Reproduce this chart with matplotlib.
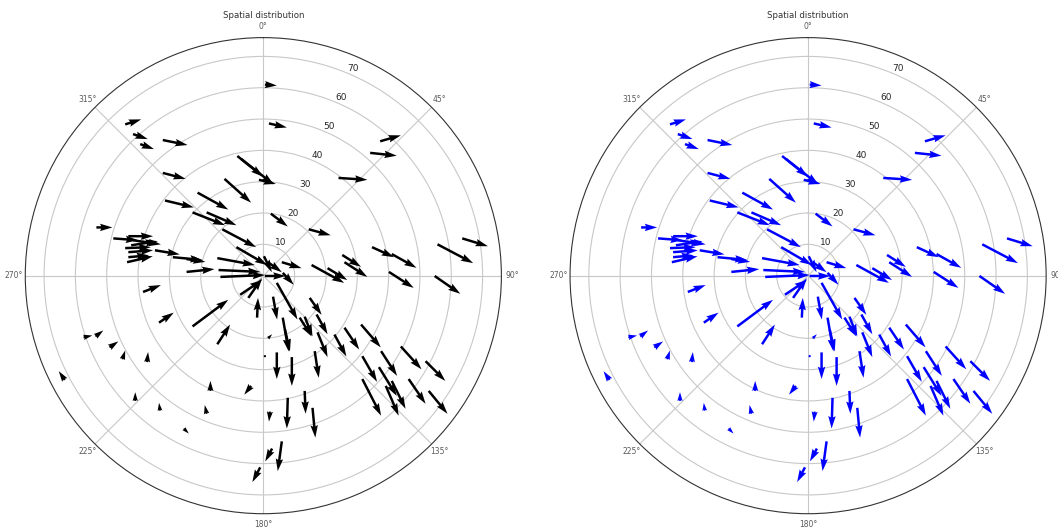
import numpy as np
import matplotlib
matplotlib.use('Agg')
import matplotlib.pyplot as plt

###############################################################################
# Constants
###############################################################################
FIG_SIZE = (10.58, 5.29)
DPI = 100
RMAX = 76.0
RTICKS = [10, 20, 30, 40, 50, 60, 70]
COLORS = ('black', 'blue')
TITLE = 'Spatial distribution'
(GRID_CLR, TLBL_CLR, RLBL_CLR) = ('#c8c8c8', '#5a5a5a', '#262626')

###############################################################################
# Data: arrow tails (east, north) and components (u east, v north)
###############################################################################
xPos = [
    0.5, 1.8, -44.1, -41.6, -39.3, -32.1, -32.1, 37.3, 34.1, 24.0,
    -8.3, -7.1, -1.4, -12.4, -21.0, -31.4, -18.1, -22.6, -13.1, -8.6,
    2.4, 14.5, -53.3, -47.9, -43.1, -41.6, -44.1, -43.1, -43.1, -43.5,
    -42.2, -34.6, -28.9, -24.5, -24.5, -14.7, -14.3, -13.7, 0.2, 1.5,
    5.9, 6.2, 0.5, 15.4, 20.5, 25.2, 25.9, 34.7, 41.0, 40.1,
    55.6, 63.5, 54.7, 31.2, 25.9, 22.7, 43.9, 51.8, 31.6, 37.6,
    31.6, 36.9, 39.1, 41.0, 46.4, 52.8, 14.8, 17.0, 17.3, 11.6,
    13.2, 4.3, 3.1, -2.0, -7.4, -4.8, -22.6, -33.3, -38.4, -14.7,
    6.2, 6.9, 4.3, 9.1, 16.4, 7.8, 13.2, 15.7, 5.9, 2.8,
    -1.0,
    2.1, -16.9, -3.9, -18.1, -57.4, -53.6, -49.1, -45.0, -37.1, -63.4,
    -40.9, -33.0, -25.4, 1.5, 0.5,
]
yPos = [
    61.0, 48.6, 48.3, 45.2, 42.0, 43.3, 32.8, 42.9, 39.2, 31.2,
    38.2, 37.3, 30.6, 30.9, 26.5, 24.0, 20.2, 20.2, 14.8, 9.1,
    19.8, 14.8, 15.4, 11.9, 12.6, 11.3, 8.8, 7.5, 5.9, 4.3,
    9.7, 8.1, 5.9, 5.3, 1.2, 5.6, 1.8, -0.4, 6.2, 4.3,
    4.3, 0.9, -0.1, 3.4, 2.4, 6.6, 4.3, 9.1, 6.9, 1.2,
    10.0, 11.9, -0.1, -15.6, -16.6, -18.8, -22.6, -27.3, -25.7, -24.1,
    -33.0, -29.2, -35.2, -33.6, -33.0, -36.8, -7.1, -12.4, -18.1, -13.4,
    -13.1, -2.3, -6.7, -13.4, -6.1, -7.1, -16.2, -15.0, -5.2, -21.9,
    -13.4, -17.2, -24.5, -26.0, -24.1, -39.0, -36.8, -42.2, -52.9, -55.2,
    -61.2,
    -43.4, -36.8, -35.2, -44.1, -19.7, -19.4, -22.9, -26.7, -27.6, -33.3,
    -40.0, -43.1, -48.8, -20.0, -25.7,
]
uVec = [
    3.8, 5.7, 5.1, 4.7, 4.4, 7.9, 7.3, 6.6, 8.5, 9.2,
    8.2, 10.4, 5.4, 8.5, 9.8, 9.2, 9.5, 10.4, 10.8, 9.8,
    5.4, 7.0, 5.1, 7.9, 7.9, 8.9, 8.2, 7.9, 6.6, 8.2,
    8.5, 7.9, 9.5, 6.0, 8.9, 12.0, 13.3, 14.2, 2.5, 4.4,
    6.3, 3.5, 6.6, 10.4, 6.3, 6.0, 7.3, 7.0, 7.9, 7.9,
    11.4, 8.2, 8.2, 6.3, 4.7, 3.8, 6.6, 6.3, 4.7, 5.1,
    6.0, 5.7, 4.1, 4.4, 5.4, 6.0, 3.8, 3.5, 3.2, 3.8,
    2.5, 6.6, 1.3, 0.3, 7.0, 4.4, 11.4, 4.7, 5.7, 4.1,
    1.9, 1.6, 0.0, 0.0, 1.3, -0.3, 0.3, 0.9, -1.3, -2.2,
    -2.5,
    -0.3, 0.0, -2.2, -0.6, 2.8, 2.5, 2.8, 0.9, 0.3, -1.9,
    0.0, -0.3, 1.6, 1.3, 0.6,
]
vVec = [
    -0.3, -1.3, 1.6, -1.6, -1.6, -1.6, -1.9, 1.9, -0.9, -0.6,
    -6.6, -8.2, -1.3, -7.6, -5.4, -2.2, -4.1, -4.1, -5.7, -5.7,
    -4.1, -1.9, 0.0, -0.6, 0.0, -1.3, 0.3, 0.6, 0.6, 1.9,
    1.3, -1.3, -0.9, -0.9, 0.9, -2.2, -0.6, 0.6, -5.1, -3.2,
    -1.9, -3.8, 0.0, -5.7, -3.8, -3.8, -4.7, -3.2, -4.4, -5.1,
    -6.0, -2.5, -5.7, -7.3, -7.0, -7.0, -7.3, -6.3, -8.2, -7.9,
    -11.7, -9.2, -9.5, -8.9, -7.9, -7.3, -5.4, -6.3, -7.9, -6.0,
    -6.3, -11.7, -7.3, 6.3, 4.7, 6.3, 8.5, 3.2, 2.2, 6.3,
    -10.8, -7.0, -8.5, -9.2, -8.5, -9.8, -7.3, -9.5, -9.5, -4.1,
    -4.7,
    -3.2, 3.2, -2.8, 2.8, 0.6, 1.9, 1.9, 2.8, 3.2, 2.8,
    2.8, 2.5, -1.6, 1.3, 0.3,
]

###############################################################################
# Polar positions
###############################################################################
(x, y) = (np.array(xPos), np.array(yPos))
theta = np.arctan2(x, y)
rad = np.hypot(x, y)

###############################################################################
# Generate Figure
###############################################################################
fig = plt.figure(figsize=FIG_SIZE, dpi=DPI)
lefts = (0.0239, 0.5388)
for (left, clr) in zip(lefts, COLORS):
    ax = fig.add_axes([left, 0.0289, 0.450, 0.900], projection='polar')
    ax.set_theta_zero_location('N')
    ax.set_theta_direction(-1)
    ax.set_rlim(0, RMAX)
    ax.set_rticks(RTICKS)
    ax.grid(True, color=GRID_CLR, linewidth=0.8)
    ax.spines['polar'].set_linewidth(0.8)
    ax.spines['polar'].set_color('#333333')
    ax.tick_params(axis='x', labelsize=5.5, colors=TLBL_CLR, length=0, pad=1)
    ax.tick_params(axis='y', labelsize=6.5, colors=RLBL_CLR)
    # Arrows ------------------------------------------------------------------
    ax.quiver(
        theta, rad, uVec, vVec,
        color=clr, angles='uv',
        scale_units='width', scale=2*RMAX,
        width=0.0052, zorder=3
    )
    ax.set_title(TITLE, fontsize=6.2, color='#333333', pad=3)

fig.savefig('out.png', dpi=DPI)
plt.close(fig)
